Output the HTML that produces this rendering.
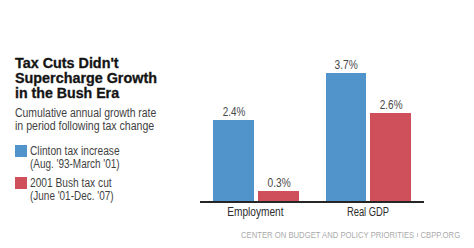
<!DOCTYPE html>
<html><head><meta charset="utf-8"><style>
html,body{margin:0;padding:0;background:#fff;}
body{width:474px;height:248px;position:relative;overflow:hidden;font-family:"Liberation Sans",sans-serif;}
.t{position:absolute;white-space:nowrap;line-height:1;}
.c{position:absolute;white-space:nowrap;line-height:1;width:200px;text-align:center;}
.r{position:absolute;}
</style></head><body>
<div class="t" style="left:15px;top:57.12px;font-size:13.8px;color:#141414;font-weight:700;transform:scaleX(1.04);transform-origin:0 0;letter-spacing:0px;-webkit-text-stroke:0.3px #141414">Tax Cuts Didn't</div>
<div class="t" style="left:15px;top:72.12px;font-size:13.8px;color:#141414;font-weight:700;transform:scaleX(1.04);transform-origin:0 0;letter-spacing:0px;-webkit-text-stroke:0.3px #141414">Supercharge Growth</div>
<div class="t" style="left:15px;top:87.22px;font-size:13.8px;color:#141414;font-weight:700;transform:scaleX(1.028);transform-origin:0 0;letter-spacing:0px;-webkit-text-stroke:0.3px #141414">in the Bush Era</div>
<div class="t" style="left:15px;top:106.74px;font-size:12px;color:#3f3f3f;font-weight:400;transform:scaleX(0.868);transform-origin:0 0;letter-spacing:0px">Cumulative annual growth rate</div>
<div class="t" style="left:15px;top:119.94px;font-size:12px;color:#3f3f3f;font-weight:400;transform:scaleX(0.88);transform-origin:0 0;letter-spacing:0px">in period following tax change</div>
<div class="r" style="left:15px;top:145px;width:12px;height:12px;background:#5094cb"></div>
<div class="r" style="left:15px;top:177px;width:12px;height:12px;background:#cf505b"></div>
<div class="t" style="left:29.6px;top:144.84px;font-size:12px;color:#3f3f3f;font-weight:400;transform:scaleX(0.85);transform-origin:0 0;letter-spacing:0px">Clinton tax increase</div>
<div class="t" style="left:29.6px;top:157.64px;font-size:12px;color:#3f3f3f;font-weight:400;transform:scaleX(0.83);transform-origin:0 0;letter-spacing:0px">(Aug. '93-March '01)</div>
<div class="t" style="left:29.6px;top:176.84px;font-size:12px;color:#3f3f3f;font-weight:400;transform:scaleX(0.85);transform-origin:0 0;letter-spacing:0px">2001 Bush tax cut</div>
<div class="t" style="left:29.6px;top:189.84px;font-size:12px;color:#3f3f3f;font-weight:400;transform:scaleX(0.83);transform-origin:0 0;letter-spacing:0px">(June '01-Dec. '07)</div>
<div class="r" style="left:213px;top:120px;width:41px;height:81px;background:#5094cb"></div>
<div class="r" style="left:258px;top:191px;width:41px;height:10px;background:#cf505b"></div>
<div class="r" style="left:326px;top:73px;width:40px;height:128px;background:#5094cb"></div>
<div class="r" style="left:370px;top:113px;width:41px;height:88px;background:#cf505b"></div>
<div class="r" style="left:200px;top:201px;width:224px;height:2px;background:#262626"></div>
<div class="c" style="left:134px;top:105.50px;font-size:12.4px;color:#474747;font-weight:400;letter-spacing:0px"><span style="display:inline-block;transform:scaleX(0.8)">2.4%</span></div>
<div class="c" style="left:179px;top:176.50px;font-size:12.4px;color:#474747;font-weight:400;letter-spacing:0px"><span style="display:inline-block;transform:scaleX(0.82)">0.3%</span></div>
<div class="c" style="left:246px;top:58.50px;font-size:12.4px;color:#474747;font-weight:400;letter-spacing:0px"><span style="display:inline-block;transform:scaleX(0.82)">3.7%</span></div>
<div class="c" style="left:291px;top:98.80px;font-size:12.4px;color:#474747;font-weight:400;letter-spacing:0px"><span style="display:inline-block;transform:scaleX(0.81)">2.6%</span></div>
<div class="c" style="left:155.5px;top:206.34px;font-size:12px;color:#2c2c2c;font-weight:400;letter-spacing:0px"><span style="display:inline-block;transform:scaleX(0.845)">Employment</span></div>
<div class="c" style="left:268px;top:206.34px;font-size:12px;color:#2c2c2c;font-weight:400;letter-spacing:0px"><span style="display:inline-block;transform:scaleX(0.78)">Real GDP</span></div>
<div class="t" style="left:241px;top:230.82px;font-size:8.6px;color:#aaaaaa;font-weight:400;transform:scaleX(0.895);transform-origin:0 0;letter-spacing:0px">CENTER ON BUDGET AND POLICY PRIORITIES <span style='color:transparent'>|</span> CBPP.ORG</div>
<div class="r" style="left:416.6px;top:233.4px;width:1.2px;height:3.8px;background:#c4c4c4"></div>
</body></html>
